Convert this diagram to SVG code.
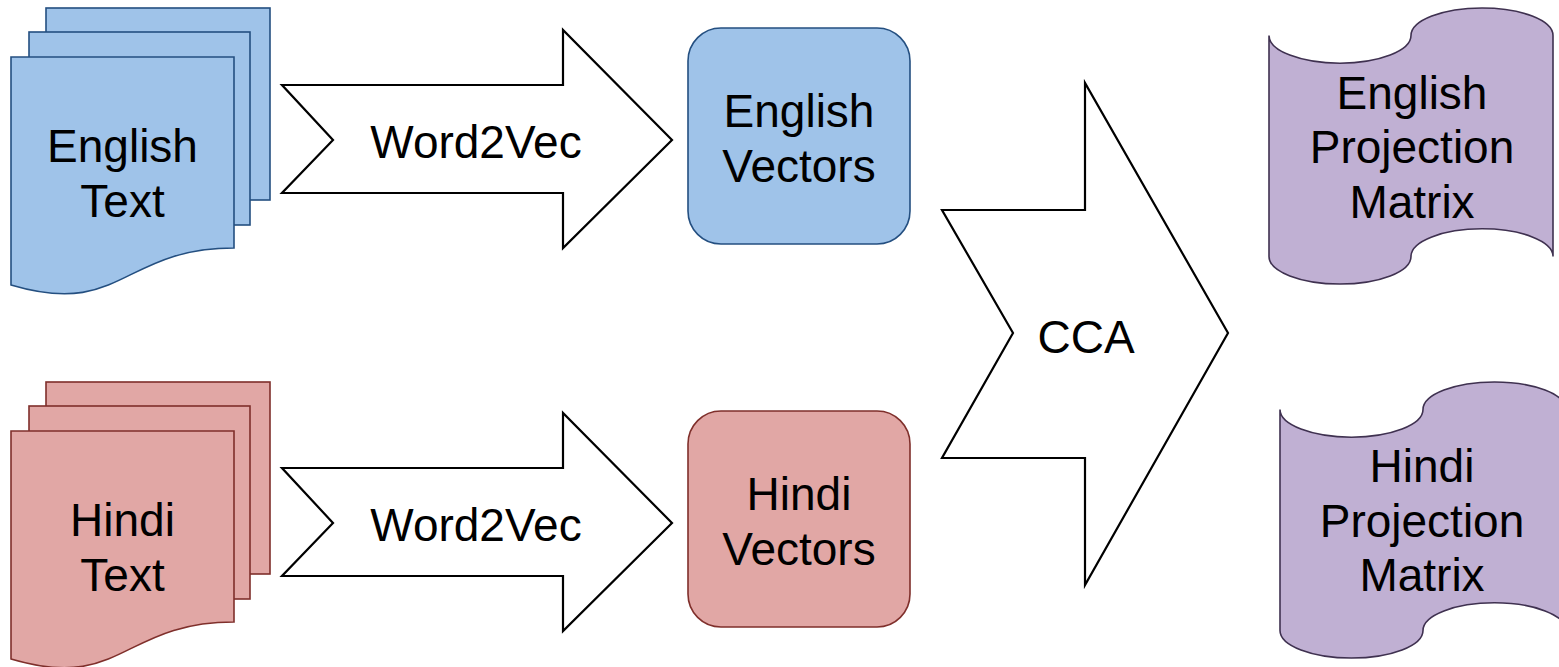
<svg xmlns="http://www.w3.org/2000/svg" width="1559" height="667" viewBox="0 0 1559 667">
<style>
text{font-family:"Liberation Sans",Arial,sans-serif;font-size:46px;fill:#000;text-anchor:middle}
.blue{fill:#9fc3e9;stroke:#244f80;stroke-width:1.6}
.red{fill:#e1a7a5;stroke:#7f2f2b;stroke-width:1.6}
.purple{fill:#c0b0d3;stroke:#3f3150;stroke-width:1.6}
.arrow{fill:#fff;stroke:#000;stroke-width:2.2;stroke-linejoin:miter}
</style>
<rect width="1559" height="667" fill="#fff"/>
<g id="english-text">
<rect class="blue" x="46" y="8" width="224" height="192"/>
<rect class="blue" x="29" y="32" width="221" height="193"/>
<path class="blue" d="M11,57 L234,57 L234,248 C122,248 122,318 11,285 Z"/>
<text x="122.5" y="162">English</text>
<text x="122.5" y="217">Text</text>
</g>
<g id="hindi-text">
<rect class="red" x="46" y="382" width="224" height="192"/>
<rect class="red" x="29" y="406" width="221" height="193"/>
<path class="red" d="M11,431 L234,431 L234,622 C122,622 122,692 11,659 Z"/>
<text x="122.5" y="536">Hindi</text>
<text x="122.5" y="591">Text</text>
</g>
<g id="connectors">
<g id="word2vec-en">
<path class="arrow" d="M282,85 L563,85 L563,30 L672,140 L563,248 L563,193 L282,193 L333,140 Z"/>
<text x="476" y="158">Word2Vec</text>
</g>
<g id="word2vec-hi">
<path class="arrow" d="M282,468 L563,468 L563,413 L672,523 L563,631 L563,576 L282,576 L333,523 Z"/>
<text x="476" y="541">Word2Vec</text>
</g>
<g id="cca">
<path class="arrow" d="M942,210 L1085,210 L1085,83 L1228,333 L1085,585 L1085,458 L942,458 L1013,333 Z"/>
<text x="1086" y="353">CCA</text>
</g>
</g>
<g id="english-vectors">
<rect class="blue" x="688" y="28" width="222" height="216" rx="33" ry="33"/>
<text x="799" y="127">English</text>
<text x="799" y="182">Vectors</text>
</g>
<g id="hindi-vectors">
<rect class="red" x="688" y="411" width="222" height="216" rx="33" ry="33"/>
<text x="799" y="510">Hindi</text>
<text x="799" y="565">Vectors</text>
</g>
<g id="english-projection">
<path class="purple" d="M1269,35.6 A71,27.6 0 0 0 1411,35.6 A71,27.6 0 0 1 1553,35.6 L1553,256.4 A71,27.6 0 0 0 1411,256.4 A71,27.6 0 0 1 1269,256.4 Z"/>
<text x="1412" y="109">English</text>
<text x="1412" y="163">Projection</text>
<text x="1412" y="218">Matrix</text>
</g>
<g id="hindi-projection">
<path class="purple" d="M1280,409.6 A71.5,27.6 0 0 0 1423,409.6 A71.5,27.6 0 0 1 1566,409.6 L1566,630.4 A71.5,27.6 0 0 0 1423,630.4 A71.5,27.6 0 0 1 1280,630.4 Z"/>
<text x="1422" y="482">Hindi</text>
<text x="1422" y="537">Projection</text>
<text x="1422" y="591">Matrix</text>
</g>
</svg>
